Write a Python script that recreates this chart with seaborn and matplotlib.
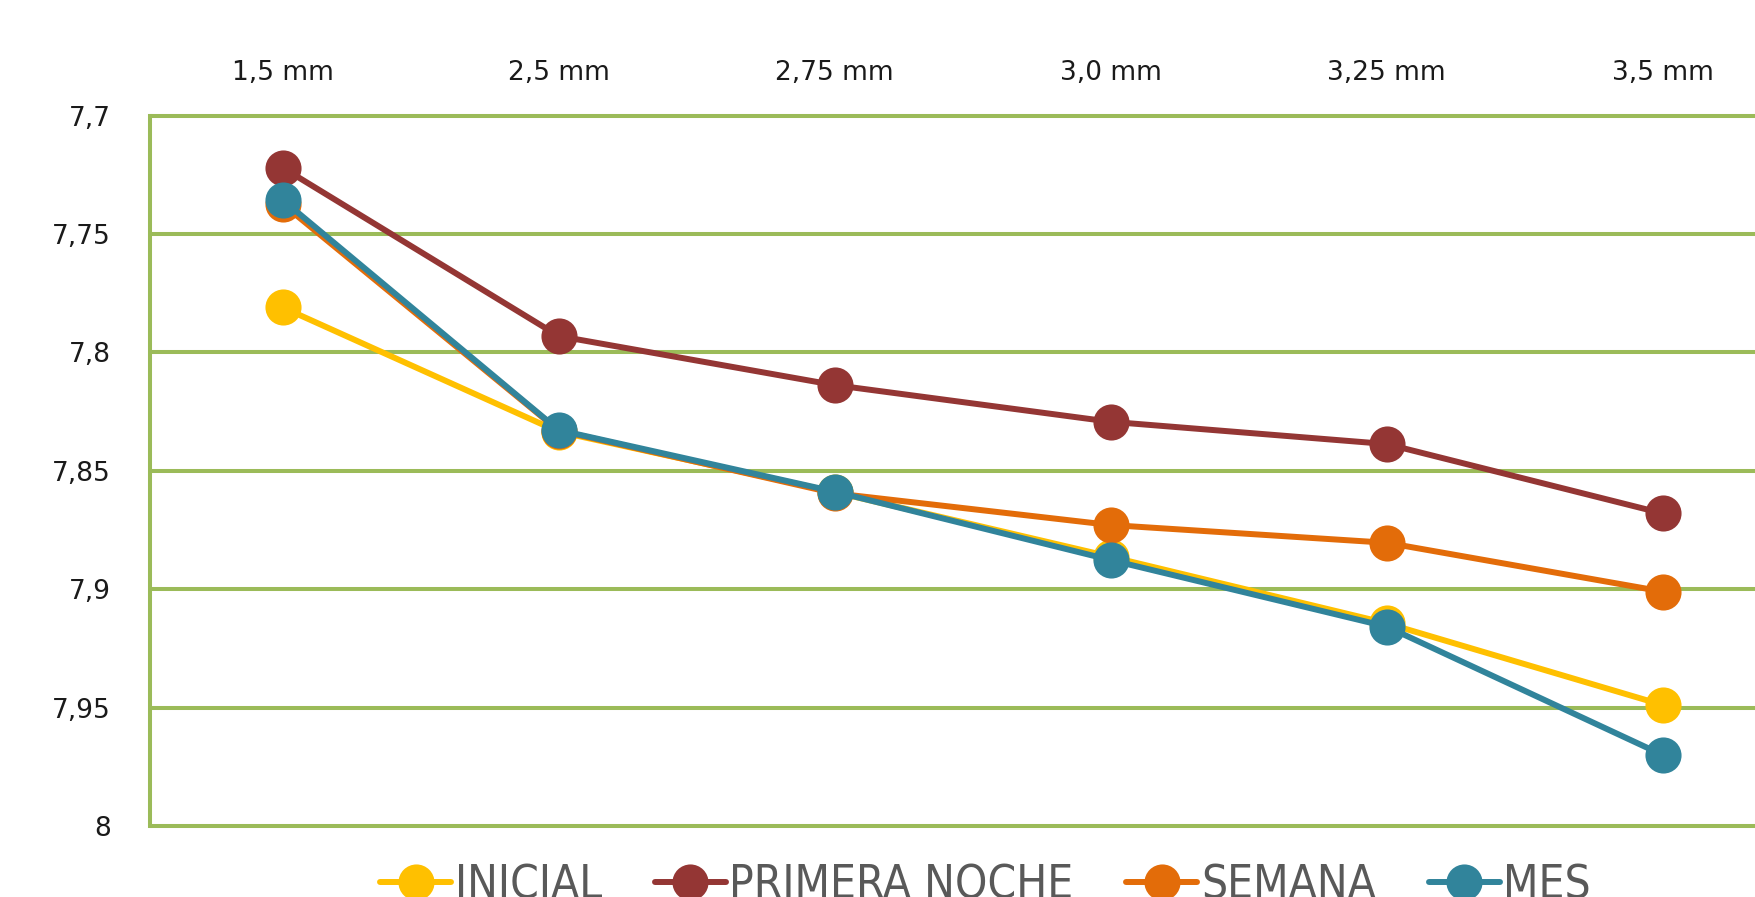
import matplotlib
matplotlib.use('Agg')
import matplotlib.pyplot as plt
from matplotlib import font_manager
import numpy as np
import pandas as pd
import seaborn as sns

# categories on the top axis
diametros = ['1,5 mm', '2,5 mm', '2,75 mm', '3,0 mm', '3,25 mm', '3,5 mm']

# series values
inicial = [7.781, 7.8335, 7.859, 7.8863, 7.9144, 7.9489]
primera_noche = [7.722, 7.7931, 7.8138, 7.8293, 7.8387, 7.868]
semana = [7.7373, 7.833, 7.8595, 7.8729, 7.8804, 7.901]
mes = [7.7356, 7.8328, 7.8588, 7.8877, 7.9158, 7.970]

series_names = ['INICIAL', 'PRIMERA NOCHE', 'SEMANA', 'MES']
series_colors = ['#FFC000', '#943634', '#E36C09', '#31849B']

y_ticks = [7.7, 7.75, 7.8, 7.85, 7.9, 7.95, 8.0]
y_labels = ['7,7', '7,75', '7,8', '7,85', '7,9', '7,95', '8']

GREEN = '#9BBB59'

df = pd.DataFrame({
    'diametro': diametros * 4,
    'valor': inicial + primera_noche + semana + mes,
    'serie': [s for s in series_names for _ in diametros],
})

sns.set_style('white')
plt.rcParams['font.family'] = ['DejaVu Sans']

fig = plt.figure(figsize=(17.56, 8.97), dpi=100)
ax = fig.add_axes([0.0852, 0.0792, 0.9374, 0.7919])

sns.lineplot(data=df, x='diametro', y='valor', hue='serie', hue_order=series_names,
             palette=series_colors, marker='o', markersize=26, markeredgewidth=0,
             linewidth=4.3, sort=False, legend=False, ax=ax, zorder=3)

ax.set_xlim(-0.482, 5.482)
ax.set_ylim(8.0, 7.7)
ax.set_yticks(y_ticks)
ax.set_yticklabels(y_labels)
ax.set_xlabel('')
ax.set_ylabel('')

ax.xaxis.tick_top()
ax.tick_params(axis='x', length=0, pad=21, labelsize=19, labelcolor='#1a1a1a')
ax.tick_params(axis='y', length=0, pad=28, labelsize=19, labelcolor='#1a1a1a')

ax.set_axisbelow(True)
ax.yaxis.grid(True, color=GREEN, linewidth=2.9)
for gl in ax.get_ygridlines():
    gl.set_clip_on(False)

for side in ['top', 'right', 'bottom']:
    ax.spines[side].set_visible(False)
ax.spines['left'].set_color(GREEN)
ax.spines['left'].set_linewidth(2.9)

# legend along the bottom edge (partly cut off in the original)
# condensed face if the system has one, otherwise a smaller regular face
names = {f.name for f in font_manager.fontManager.ttflist}
condensed = [f for f in font_manager.fontManager.ttflist
             if f.name == 'DejaVu Sans' and 'ondensed' in str(f.stretch) + f.fname]
if 'Liberation Sans Narrow' in names:
    leg_prop = {'family': 'Liberation Sans Narrow', 'size': 35}
elif condensed:
    leg_prop = {'family': 'DejaVu Sans', 'stretch': 'condensed', 'size': 33}
else:
    leg_prop = {'family': 'DejaVu Sans', 'size': 28}

handles = ax.lines[:4]
fig.legend(handles, series_names, loc='center left', bbox_to_anchor=(0.2164, 1 - 886 / 897),
           ncol=4, frameon=False, borderpad=0, borderaxespad=0, handlelength=1.55,
           handletextpad=0.08, columnspacing=1.15, prop=leg_prop, labelcolor='#595959')

fig.savefig('out.png', dpi=100)
